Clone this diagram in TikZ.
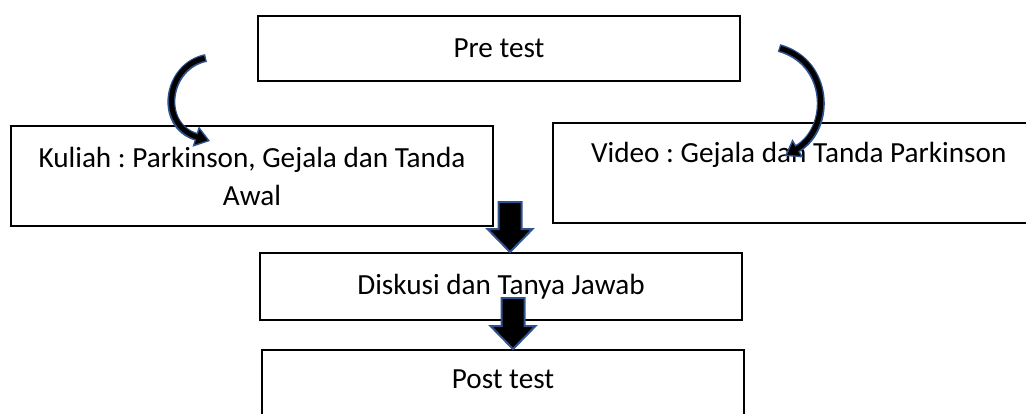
\documentclass[tikz,border=0pt]{standalone}
\usepackage{fontspec}
\setmainfont{Carlito}
\usepackage{xcolor}
\usetikzlibrary{arrows.meta,calc}
\definecolor{arrowblue}{RGB}{47,82,143}
\frenchspacing
\tikzset{
  box/.style={draw, rectangle, line width=1pt, minimum width=241pt, font=\fontsize{14.6}{19}\selectfont},
  boxtext/.style={font=\fontsize{14.6}{19}\selectfont},
  curvearrow/.style={arrowblue, line width=4pt, -{Triangle[length=7.5pt, width=10.5pt, fill=black, line width=0.7pt]}},
  curvecore/.style={black, line width=2.5pt, shorten >=6.5pt, shorten <=0.7pt},
  blockarrow/.style={draw=arrowblue, fill=black, line width=1pt, line join=miter}
}
\begin{document}
\begin{tikzpicture}[x=0.5pt, y=-0.5pt]
        \useasboundingbox (0,0) rectangle (1026,413);
        % Steps
        \node[box, minimum height=32.5pt] (pre) at (499,48.5) {Pre test};
        \node[box, minimum height=50pt, align=center] (kuliah) at (252,176) {Kuliah : Parkinson, Gejala dan Tanda\\Awal};
        \node[box, anchor=west, minimum width=300pt, minimum height=50pt] (video) at (552,173) {};
        \node[boxtext, anchor=base west] (videotext) at (584,162) {Video : Gejala dan Tanda Parkinson};
        \node[box, minimum height=33.5pt] (diskusi) at (501,286.5) {Diskusi dan Tanya Jawab};
        \node[box, minimum height=45pt] (post) at (503,395) {};
        \node[boxtext, anchor=base] (posttext) at (503,388) {Post test};

        % Curved arrows from pre test
        \coordinate (lstart) at (206,58);
        \coordinate (lend) at (210,141);
        \coordinate (rstart) at (779,48);
        \coordinate (rend) at (785,156);
        \draw[curvearrow] (lstart) .. controls (166,66) and (158,125) .. (lend);
        \draw[curvecore] (lstart) .. controls (166,66) and (158,125) .. (lend);
        \draw[curvearrow] (rstart) .. controls (830,62) and (832,128) .. (rend);
        \draw[curvecore] (rstart) .. controls (830,62) and (832,128) .. (rend);

        % Block arrows down
        \draw[blockarrow] ($(diskusi.north)+(9,0)$) -- ++(-22.5,-23) -- ++(11,0) -- ++(0,-27) -- ++(23,0) -- ++(0,27) -- ++(11,0) -- cycle;
        \draw[blockarrow] ($(post.north)+(10,0)$) -- ++(-22.5,-23) -- ++(11,0) -- ++(0,-28) -- ++(23,0) -- ++(0,28) -- ++(11,0) -- cycle;
\end{tikzpicture}
\end{document}
